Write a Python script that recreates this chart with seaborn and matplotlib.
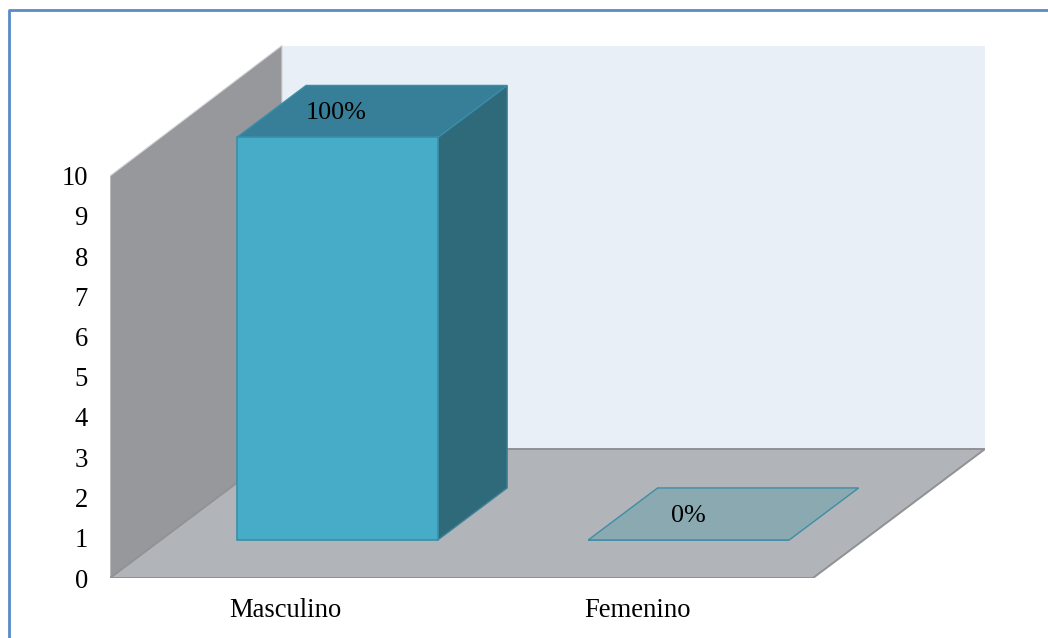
import matplotlib
matplotlib.use("Agg")
import matplotlib.pyplot as plt
from matplotlib.transforms import Affine2D
import pandas as pd
import seaborn as sns

categories = ["Masculino", "Femenino"]
counts = [10, 0]
share_labels = ["100%", "0%"]
y_ticks = list(range(0, 11))

W, H = 1048, 638
LEFT, RIGHT, TOP, BOTTOM = 110, 985, 44, 578
PX_PER_CAT = 351.5
PX_PER_UNIT = 40.25

# Oblique projection: how far one full step of depth moves a point, in data units
DEPTH_X = 172 / PX_PER_CAT
DEPTH_Y = 129 / PX_PER_UNIT
BAR_NEAR, BAR_FAR = 0.295, 0.698
BAR_WIDTH = 0.572
BAR_NUDGE = 0.8 / PX_PER_CAT


def project(u, v, d):
    return u + d * DEPTH_X, v + d * DEPTH_Y


def face(ax, corners, **style):
    xs, ys = zip(*[project(*c) for c in corners])
    ax.fill(xs, ys, **style)


sns.set_theme(style="white")
plt.rcParams["font.family"] = ["Liberation Serif", "DejaVu Serif"]

fig = plt.figure(figsize=(W / 100, H / 100), dpi=100, facecolor="white")
ax = fig.add_axes([LEFT / W, 1 - BOTTOM / H, (RIGHT - LEFT) / W, (BOTTOM - TOP) / H])
ax.set_facecolor("none")

x0, x1 = -0.5, 1.5
wall_top = (578 - 176) / PX_PER_UNIT
back_top = wall_top + 1.5 / PX_PER_UNIT
ax.set_xlim(x0, x0 + (RIGHT - LEFT) / PX_PER_CAT)
ax.set_ylim(0, (BOTTOM - TOP) / PX_PER_UNIT)

# Room: back wall, side wall, floor
face(ax, [(x0, 0, 1), (x1, 0, 1), (x1, back_top, 1), (x0, back_top, 1)],
     facecolor="#e8eff7", edgecolor="none", zorder=1)
face(ax, [(x0, 0, 0), (x0, wall_top, 0), (x0, back_top, 1), (x0, 0, 1)],
     facecolor="#96989c", edgecolor="#d4d5d7", linewidth=0.8, zorder=2)
face(ax, [(x0, 0, 0), (x1, 0, 0), (x1, 0, 1), (x0, 0, 1)],
     facecolor="#b1b5b9", edgecolor="#8f9194", linewidth=1.4, zorder=3)

# Front faces of the bars, pushed back to their depth in the room
front_x, front_y = project(0, 0, BAR_NEAR)
df = pd.DataFrame({"categoria": categories, "valor": counts})
sns.barplot(
    data=df, x="categoria", y="valor", ax=ax, width=BAR_WIDTH, color="#47acc7",
    saturation=1, errorbar=None, edgecolor="#3a8ea8", linewidth=1.2, zorder=6,
    transform=Affine2D().translate(front_x + BAR_NUDGE, front_y) + ax.transData,
)
ax.set_xlim(x0, x0 + (RIGHT - LEFT) / PX_PER_CAT)
ax.set_ylim(0, (BOTTOM - TOP) / PX_PER_UNIT)

half = BAR_WIDTH / 2
for i, (value, label) in enumerate(zip(counts, share_labels)):
    l, r = i - half + BAR_NUDGE, i + half + BAR_NUDGE
    top_style = dict(facecolor="#377f98", edgecolor="#3a8ea8", linewidth=1, zorder=5)
    if value > 0:
        face(ax, [(r, 0, BAR_NEAR), (r, value, BAR_NEAR), (r, value, BAR_FAR), (r, 0, BAR_FAR)],
             facecolor="#2f6a7b", edgecolor="#3f8096", linewidth=1, zorder=4)
    else:
        top_style.update(facecolor="#8aa9b1", edgecolor="#3f8ea4", zorder=7)
    face(ax, [(l, value, BAR_NEAR), (r, value, BAR_NEAR), (r, value, BAR_FAR), (l, value, BAR_FAR)],
         **top_style)
    # Share label: centred over the front edge, halfway up the top face
    tx = project(i, value, BAR_NEAR)[0]
    ty = project(i, value, (BAR_NEAR + BAR_FAR) / 2)[1] - 2 / PX_PER_UNIT
    ax.text(tx, ty, label, ha="center", va="center", fontsize=18.8, color="black", zorder=8)

ax.set_yticks(y_ticks)
ax.set_xticks(range(len(categories)), categories)
ax.set_xlabel("")
ax.set_ylabel("")
ax.tick_params(axis="both", length=0, labelsize=19.2, labelcolor="black")
ax.tick_params(axis="y", pad=16)
ax.tick_params(axis="x", pad=14.5)
sns.despine(ax=ax, left=True, bottom=True)
for spine in ax.spines.values():
    spine.set_visible(False)

# Frame along the left and top of the figure
frame_x = [8.5 / W, 8.5 / W, 1]
frame_y = [0, 1 - 10 / H, 1 - 10 / H]
fig.add_artist(plt.Line2D(frame_x, frame_y, transform=fig.transFigure, color="#5b8bc6", linewidth=2))

fig.savefig("out.png", dpi=100)
